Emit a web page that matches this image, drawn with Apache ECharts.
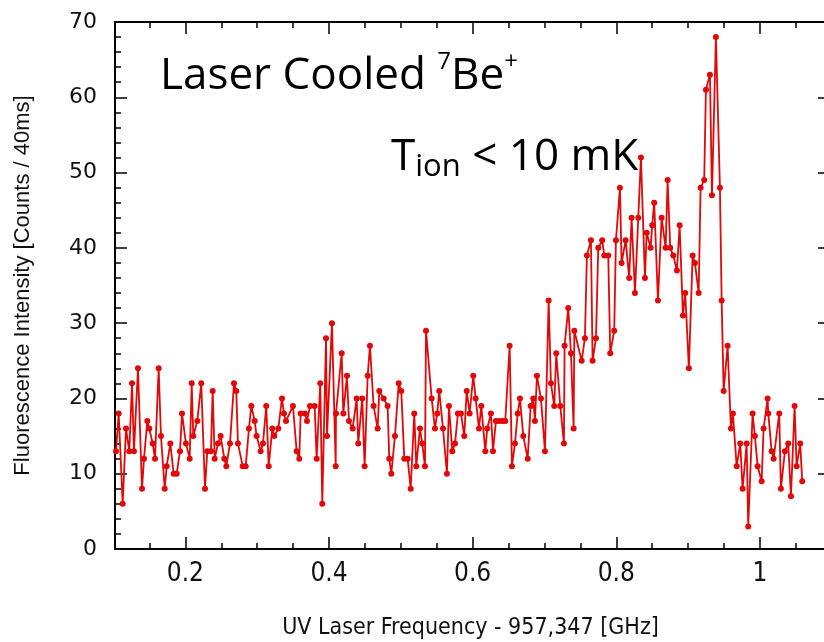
<!DOCTYPE html>
<html>
<head>
<meta charset="utf-8">
<style>
  html, body { margin: 0; padding: 0; background: #fff; overflow: hidden; }
  #chart { width: 824px; height: 642px; }
</style>
<script src="https://cdn.jsdelivr.net/npm/echarts@6/dist/echarts.min.js"></script>
</head>
<body>
<div id="chart"></div>
<script>
// UV laser frequency offset (GHz, relative to 957,347 GHz)
const freq = [
  0.1034,0.1071,0.1127,0.1173,0.1219,0.1257,0.1284,0.1340,0.1396,0.1424,
  0.1470,0.1497,0.1545,0.1577,0.1628,0.1660,0.1712,0.1740,0.1790,0.1837,
  0.1879,0.1925,0.1953,0.2008,0.2060,0.2088,0.2110,0.2166,0.2221,0.2273,
  0.2305,0.2356,0.2380,0.2408,0.2454,0.2491,0.2542,0.2570,0.2621,0.2677,
  0.2709,0.2732,0.2798,0.2840,0.2885,0.2918,0.2965,0.2992,0.3048,0.3080,
  0.3126,0.3160,0.3210,0.3238,0.3294,0.3345,0.3373,0.3401,0.3498,0.3549,
  0.3586,0.3605,0.3665,0.3693,0.3735,0.3800,0.3828,0.3878,0.3906,0.3958,
  0.3972,0.4041,0.4093,0.4097,0.4176,0.4199,0.4250,0.4278,0.4329,0.4385,
  0.4407,0.4463,0.4496,0.4538,0.4570,0.4621,0.4677,0.4700,0.4761,0.4816,
  0.4839,0.4867,0.4918,0.4970,0.5006,0.5048,0.5095,0.5137,0.5187,0.5215,
  0.5266,0.5298,0.5336,0.5350,0.5429,0.5475,0.5507,0.5535,0.5587,0.5642,
  0.5670,0.5716,0.5754,0.5795,0.5837,0.5883,0.5917,0.5958,0.6008,0.6042,
  0.6088,0.6120,0.6176,0.6203,0.6255,0.6283,0.6324,0.6366,0.6412,0.6454,
  0.6515,0.6547,0.6589,0.6627,0.6659,0.6705,0.6766,0.6808,0.6844,0.6867,
  0.6895,0.6951,0.7007,0.7058,0.7090,0.7136,0.7164,0.7220,0.7271,0.7280,
  0.7331,0.7369,0.7406,0.7416,0.7518,0.7563,0.7591,0.7647,0.7670,0.7717,
  0.7749,0.7804,0.7832,0.7888,0.7916,0.7971,0.7995,0.8051,0.8074,0.8130,
  0.8180,0.8213,0.8260,0.8306,0.8343,0.8399,0.8423,0.8478,0.8500,0.8528,
  0.8580,0.8631,0.8687,0.8715,0.8751,0.8793,0.8844,0.8882,0.8928,0.8960,
  0.9011,0.9063,0.9095,0.9147,0.9174,0.9224,0.9248,0.9304,0.9332,0.9387,
  0.9443,0.9467,0.9495,0.9550,0.9596,0.9624,0.9676,0.9726,0.9759,0.9815,
  0.9837,0.9898,0.9930,0.9968,1.0024,1.0051,1.0107,1.0116,1.0163,1.0191,
  1.0269,1.0292,1.0348,1.0394,1.0432,1.0483,1.0511,1.0561,1.0589
];
// Fluorescence counts per 40 ms
const counts = [
  13,18,6,16,13,22,13,24,8,12,
  17,16,14,12,24,15,8,11,14,10,
  10,13,18,14,12,22,15,17,22,8,
  13,13,21,12,14,15,12,11,14,22,
  21,14,11,11,16,19,17,15,13,14,
  19,11,16,15,16,20,18,17,19,13,
  12,18,18,17,19,19,12,22,6,28,
  15,30,11,18,26,18,23,17,16,20,
  14,20,11,23,27,19,16,21,20,19,
  12,10,15,22,21,12,12,8,18,11,
  16,14,11,29,20,16,18,21,16,10,
  19,13,14,18,18,15,21,18,23,20,
  16,19,13,16,18,13,17,17,17,17,
  27,11,14,18,20,15,12,19,20,17,
  23,20,13,33,22,19,26,19,14,27,
  32,26,16,29,25,28,39,41,25,28,
  40,41,39,39,26,29,41,48,38,41,
  36,44,34,44,52,36,42,40,43,46,
  33,44,40,49,40,39,37,43,31,34,
  24,39,38,34,48,49,61,63,47,68,
  48,33,21,27,16,18,11,14,8,14,
  3,18,15,11,9,16,20,18,13,12,
  18,8,13,14,7,19,11,14,9
];
const xMajorTicks = [0.2, 0.4, 0.6, 0.8, 1.0];
const xMinorTicks = [0.15, 0.25, 0.3, 0.35, 0.45, 0.5, 0.55, 0.65, 0.7, 0.75, 0.85, 0.9, 0.95, 1.05];
const yTicks = [0, 10, 20, 30, 40, 50, 60, 70];

const X_MIN = 0.102, X_MAX = 1.092;
const Y_MIN = 0, Y_MAX = 70;

const seriesData = freq.map((f, i) => [f, counts[i]]);

const narrow = "'Liberation Sans Narrow', 'DejaVu Sans Condensed', 'Liberation Sans', sans-serif";
const black = '#000';

function xAxisBase(position, ticks, len, showLine, showLabel) {
  return {
    type: 'value', position: position, min: X_MIN, max: X_MAX,
    axisLine: { show: showLine, onZero: false, lineStyle: { color: black, width: 2 } },
    axisTick: { show: true, inside: true, length: len, customValues: ticks, lineStyle: { color: black, width: 1.5 } },
    axisLabel: showLabel ? {
      show: true, customValues: xMajorTicks, margin: 12,
      fontFamily: narrow, fontSize: 26, color: '#111',
      formatter: v => (Math.abs(v - 1) < 1e-9 ? '1' : String(+v.toFixed(2)))
    } : { show: false },
    splitLine: { show: false }
  };
}

const chart = echarts.init(document.getElementById('chart'), null, { renderer: 'canvas' });
chart.setOption({
  animation: false,
  backgroundColor: '#fff',
  grid: { left: 115, width: 711, top: 22, bottom: 93, containLabel: false, outerBoundsMode: 'none' },
  xAxis: [
    Object.assign(xAxisBase('bottom', xMajorTicks, 12, true, true), {
      name: 'UV Laser Frequency - 957,347 [GHz]', nameLocation: 'middle', nameGap: 68,
      nameTextStyle: { fontFamily: narrow, fontSize: 23, color: '#111' }
    }),
    xAxisBase('bottom', xMinorTicks, 6, false, false),
    xAxisBase('top', xMajorTicks, 12, true, false),
    xAxisBase('top', xMinorTicks, 6, false, false)
  ],
  yAxis: [
    {
      type: 'value', position: 'left', min: Y_MIN, max: Y_MAX, interval: 10,
      axisLine: { show: true, lineStyle: { color: black, width: 2 } },
      axisTick: { show: true, inside: true, length: 12, lineStyle: { color: black, width: 1.5 } },
      minorTick: { show: true, splitNumber: 5, length: 6, lineStyle: { color: black, width: 1.5 } },
      axisLabel: { show: true, margin: 18, fontFamily: "'DejaVu Sans', sans-serif", fontSize: 22, color: '#111',
        customValues: yTicks },
      splitLine: { show: false },
      name: 'Fluorescence Intensity [Counts / 40ms]', nameLocation: 'middle', nameGap: 81, nameRotate: 90,
      nameTextStyle: { fontFamily: "'Liberation Sans', Arial, sans-serif", fontSize: 22, color: '#111' }
    },
    {
      type: 'value', position: 'right', min: Y_MIN, max: Y_MAX, interval: 10,
      axisLine: { show: false },
      axisTick: { show: true, inside: true, length: 8, lineStyle: { color: black, width: 1.5 } },
      axisLabel: { show: false },
      splitLine: { show: false }
    }
  ],
  series: [{
    type: 'line',
    xAxisIndex: 0, yAxisIndex: 0,
    data: seriesData,
    showAllSymbol: true,
    symbol: 'circle', symbolSize: 6,
    lineStyle: { color: '#e30808', width: 1.8 },
    itemStyle: { color: '#e30808' },
    clip: true
  }],
  graphic: [
    {
      type: 'text', left: 160, top: 50, z: 100,
      style: {
        text: '{a|Laser Cooled }{s|7}{a|Be}{s|+}',
        fill: black,
        rich: {
          a: { fontFamily: "'Open Sans', sans-serif", fontSize: 44, lineHeight: 52, fill: black },
          s: { fontFamily: "'Open Sans', sans-serif", fontSize: 24, lineHeight: 36, verticalAlign: 'top', fill: black }
        }
      }
    },
    {
      type: 'text', left: 391, top: 135, z: 100,
      style: {
        text: '{a|T}{b|ion}{a| < 10 mK}',
        fill: black,
        rich: {
          a: { fontFamily: "'Open Sans', sans-serif", fontSize: 44, lineHeight: 52, fill: black },
          b: { fontFamily: "'Open Sans', sans-serif", fontSize: 31, lineHeight: 38, verticalAlign: 'bottom', fill: black }
        }
      }
    }
  ]
});
</script>
</body>
</html>
